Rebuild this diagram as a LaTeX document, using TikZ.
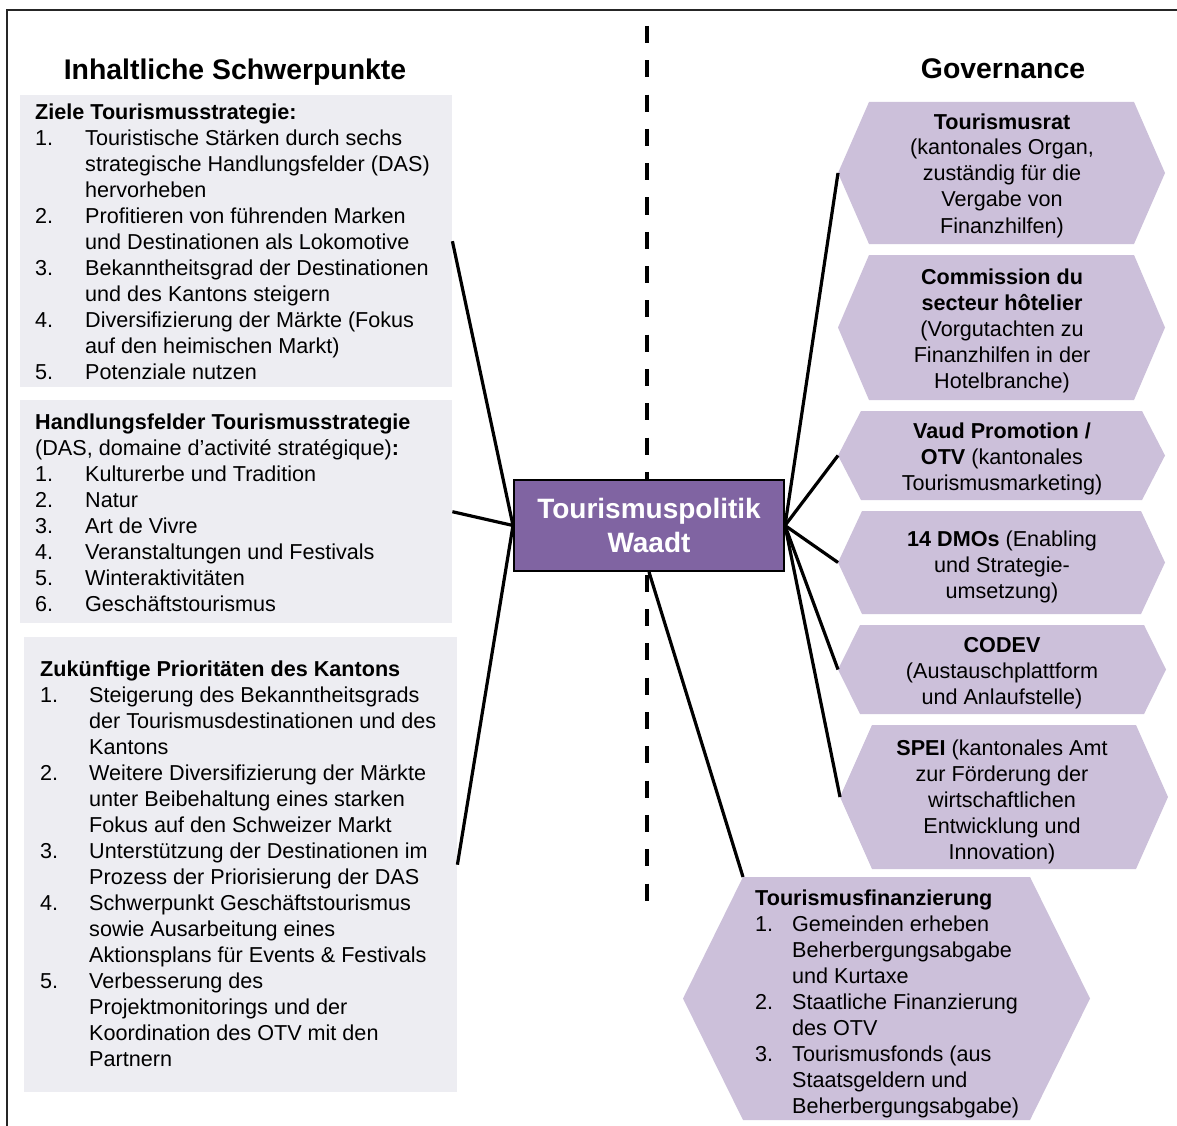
\documentclass[tikz,border=0pt]{standalone}
\usepackage{fontspec}
\setmainfont{Liberation Sans}
\definecolor{lboxc}{RGB}{237,237,242}
\definecolor{hexc}{RGB}{204,192,218}
\definecolor{purp}{RGB}{128,100,162}
\newcommand\li[3][50pt]{\makebox[#1][l]{#2}#3}
\newcommand\lc[2][50pt]{\hspace*{#1}#2}
% #1 name, #2 left x, #3 right x, #4 top y, #5 bottom y, #6 indent
\newcommand\hexa[6]{%
  \fill[hexc] (#2,{(#4+#5)/2}) -- (#2+#6,#4) -- (#3-#6,#4) -- (#3,{(#4+#5)/2}) -- (#3-#6,#5) -- (#2+#6,#5) -- cycle;
  \coordinate (#1w) at (#2,{(#4+#5)/2});
  \coordinate (#1c) at (#2+#6,#4);
}
\begin{document}
\begin{tikzpicture}[x=1pt,y=-1pt,
  txt/.style={font=\fontsize{21.6}{26}\selectfont, inner sep=0pt, align=left, anchor=base west},
  ctxt/.style={font=\fontsize{21.6}{26}\selectfont, inner sep=0pt, align=center, anchor=base},
  ttl/.style={font=\fontsize{28.4}{34}\selectfont\bfseries, inner sep=0pt, anchor=base},
  lbox/.style={fill=lboxc, draw=none, anchor=north west, inner sep=0pt},
  conn/.style={line width=3.2pt, black},
  divider/.style={line width=4pt, black, dash pattern=on 17pt off 17.3pt}]
\useasboundingbox (0,0) rectangle (1177,1126);
\clip (0,0) rectangle (1177,1126);
\fill[white] (0,0) rectangle (1177,1126);
\draw[line width=2pt, black!85] (7,1200) -- (7,10) -- (1250,10);

% titles
\node[ttl] (tleft) at (235,80) {Inhaltliche Schwerpunkte};
\node[ttl] (tright) at (1003,79) {Governance};

% divider
\draw[divider] (647,26) -- (647,903);

% left boxes
\node[lbox, minimum width=432pt, minimum height=292pt] (b1) at (20,95) {};
\node[lbox, minimum width=432pt, minimum height=223pt] (b2) at (20,400) {};
\node[lbox, minimum width=433pt, minimum height=455pt] (b3) at (24,637) {};

% (text nodes are anchored at the baseline of their last line)
\node[txt] (t1) at (35,379) {\textbf{Ziele Tourismusstrategie:}\\
\li{1.}{Touristische Stärken durch sechs}\\
\lc{strategische Handlungsfelder (DAS)}\\
\lc{hervorheben}\\
\li{2.}{Profitieren von führenden Marken}\\
\lc{und Destinationen als Lokomotive}\\
\li{3.}{Bekanntheitsgrad der Destinationen}\\
\lc{und des Kantons steigern}\\
\li{4.}{Diversifizierung der Märkte (Fokus}\\
\lc{auf den heimischen Markt)}\\
\li{5.}{Potenziale nutzen}};

\node[txt] (t2) at (35,611) {\textbf{Handlungsfelder Tourismusstrategie}\\
(DAS, domaine d’activité stratégique)\textbf{:}\\
\li{1.}{Kulturerbe und Tradition}\\
\li{2.}{Natur}\\
\li{3.}{Art de Vivre}\\
\li{4.}{Veranstaltungen und Festivals}\\
\li{5.}{Winteraktivitäten}\\
\li{6.}{Geschäftstourismus}};

\node[txt] (t3) at (40,1066) {\textbf{Zukünftige Prioritäten des Kantons}\\
\li[49pt]{1.}{Steigerung des Bekanntheitsgrads}\\
\lc[49pt]{der Tourismusdestinationen und des}\\
\lc[49pt]{Kantons}\\
\li[49pt]{2.}{Weitere Diversifizierung der Märkte}\\
\lc[49pt]{unter Beibehaltung eines starken}\\
\lc[49pt]{Fokus auf den Schweizer Markt}\\
\li[49pt]{3.}{Unterstützung der Destinationen im}\\
\lc[49pt]{Prozess der Priorisierung der DAS}\\
\li[49pt]{4.}{Schwerpunkt Geschäftstourismus}\\
\lc[49pt]{sowie Ausarbeitung eines}\\
\lc[49pt]{Aktionsplans für Events \& Festivals}\\
\li[49pt]{5.}{Verbesserung des}\\
\lc[49pt]{Projektmonitorings und der}\\
\lc[49pt]{Koordination des OTV mit den}\\
\lc[49pt]{Partnern}};

% hexagons
\hexa{h1}{838}{1165}{102}{244}{31}
\hexa{h2}{838}{1165}{255}{400}{31}
\hexa{h3}{838}{1165}{411}{500}{23}
\hexa{h4}{838}{1165}{511}{614}{24}
\hexa{h5}{838}{1166}{625}{714}{22}
\hexa{h6}{840}{1168}{725}{869}{32}
\hexa{h7}{683}{1090}{877}{1120}{60}

\node[ctxt] (x1) at (1002,233) {\textbf{Tourismusrat}\\(kantonales Organ,\\zuständig für die\\Vergabe von\\Finanzhilfen)};
\node[ctxt] (x2) at (1002,388) {\textbf{Commission du}\\\textbf{secteur hôtelier}\\(Vorgutachten zu\\Finanzhilfen in der\\Hotelbranche)};
\node[ctxt] (x3) at (1002,490) {\textbf{Vaud Promotion /}\\\textbf{OTV} (kantonales\\Tourismusmarketing)};
\node[ctxt] (x4) at (1002,598) {\textbf{14 DMOs} (Enabling\\und Strategie-\\umsetzung)};
\node[ctxt] (x5) at (1002,704) {\textbf{CODEV}\\(Austauschplattform\\und Anlaufstelle)};
\node[ctxt] (x6) at (1002,859) {\textbf{SPEI} (kantonales Amt\\zur Förderung der\\wirtschaftlichen\\Entwicklung und\\Innovation)};
\node[txt] (x7) at (755,1113) {\textbf{Tourismusfinanzierung}\\
\li[37pt]{1.}{Gemeinden erheben}\\
\lc[37pt]{Beherbergungsabgabe}\\
\lc[37pt]{und Kurtaxe}\\
\li[37pt]{2.}{Staatliche Finanzierung}\\
\lc[37pt]{des OTV}\\
\li[37pt]{3.}{Tourismusfonds (aus}\\
\lc[37pt]{Staatsgeldern und}\\
\lc[37pt]{Beherbergungsabgabe)}};

% center box
\node[draw=black, line width=2pt, fill=purp, minimum width=270pt, minimum height=91pt,
  text=white, font=\fontsize{28}{34}\selectfont\bfseries, align=center, inner sep=0pt] (cb) at (649,525.5) {Tourismuspolitik\\Waadt};

% connectors
\draw[conn] (b1.east) -- (cb.west);
\draw[conn] (b2.east) -- (cb.west);
\draw[conn] (b3.east) -- (cb.west);
\draw[conn] (cb.east) -- (h1w);
\draw[conn] (cb.east) -- (h3w);
\draw[conn] (cb.east) -- (h4w);
\draw[conn] (cb.east) -- (h5w);
\draw[conn] (cb.east) -- (h6w);
\draw[conn] (cb.south) -- (h7c);
\end{tikzpicture}
\end{document}
